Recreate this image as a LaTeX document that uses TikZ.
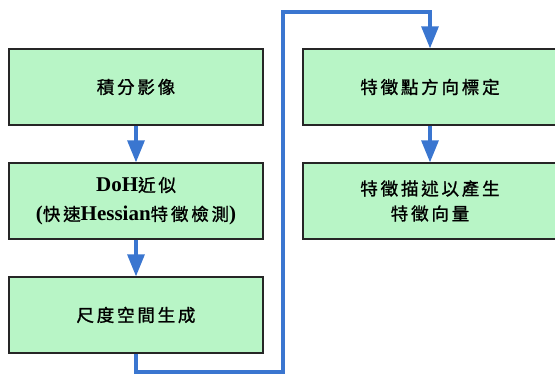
\documentclass[tikz,border=0pt]{standalone}
\usepackage{fontspec}
\setmainfont{Liberation Serif}
\newfontfamily\cjk{Noto Sans CJK TC}[LetterSpace=16,FakeBold=1.2]
\usetikzlibrary{arrows.meta}
\definecolor{boxgreen}{RGB}{184,245,198}
\definecolor{flowblue}{RGB}{58,118,208}
\newcommand{\lt}[1]{{\fontsize{21}{28}\selectfont\bfseries #1}}
\begin{document}
\begin{tikzpicture}[x=1pt,y=1pt,
  stepbox/.style={draw=black!85,line width=1.3pt,fill=boxgreen,minimum width=254pt,minimum height=76pt,inner sep=0pt,align=center,font=\fontsize{17.5}{29}\selectfont},
  flow/.style={draw=flowblue,line width=3.2pt,-{Triangle[length=22pt,width=17pt]}}]
\useasboundingbox (0,0) rectangle (555,374);
\node[stepbox] (b1) at (136,287) {\cjk 積分影像};
\node[stepbox] (b2) at (136,173) {\lt{DoH}{\cjk 近似}\\\lt{(}{\cjk 快速}\lt{Hessian}{\cjk 特徵檢測}\lt{)}};
\node[stepbox] (b3) at (136,59) {\cjk 尺度空間生成};
\node[stepbox] (b4) at (430,287) {\cjk 特徵點方向標定};
\node[stepbox,font=\fontsize{17.5}{25}\selectfont] (b5) at (430,173) {\cjk 特徵描述以產生\\\cjk 特徵向量};
\coordinate (c1) at (136,2);
\coordinate (c2) at (283,2);
\coordinate (c3) at (283,362);
\coordinate (c4) at (430,362);
\draw[flow] (b1.south) -- (b2.north);
\draw[flow] (b2.south) -- (b3.north);
\draw[flow] (b4.south) -- (b5.north);
\draw[flow,line join=miter] (b3.south) -- (c1) -- (c2) -- (c3) -- (c4) -- (b4.north);
\end{tikzpicture}
\end{document}
